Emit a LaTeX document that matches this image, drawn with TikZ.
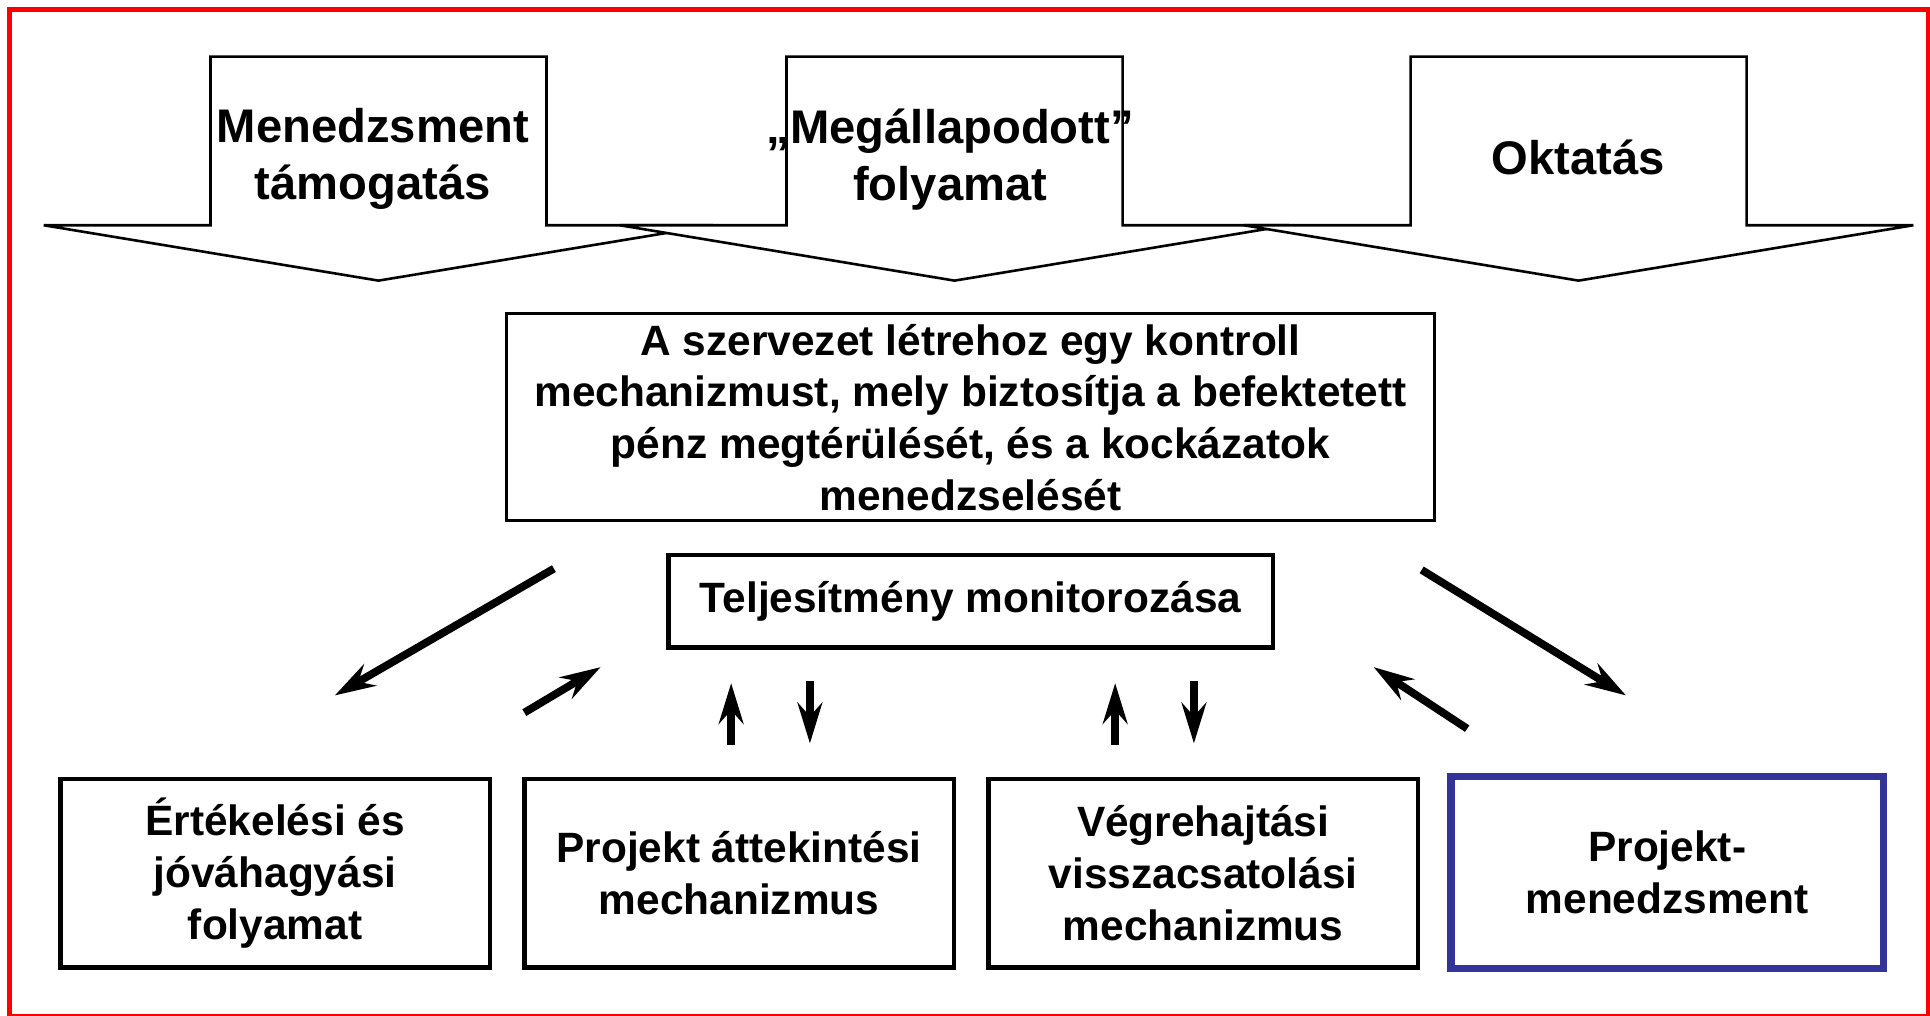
\documentclass[tikz,border=0pt]{standalone}
\usepackage{fontspec}
\setmainfont{Liberation Sans}
\usepackage{tikz}
\usetikzlibrary{arrows.meta}
\definecolor{pmblue}{RGB}{51,51,153}

\begin{document}
\begin{tikzpicture}[x=0.01cm, y=-0.01cm,
    bigarrow/.style={draw=black, fill=white, line width=0.6pt, line join=miter},
    arrowtext/.style={font=\fontsize{10.9}{13.2}\selectfont\bfseries, align=center},
    mechbox/.style={draw=black, line width=1.1pt, align=center, inner sep=0pt,
        font=\fontsize{9.8}{11.95}\selectfont\bfseries,
        minimum width=3.49cm, minimum height=1.53cm},
    flow/.style={-{Stealth[length=3.3mm, width=2mm, inset=1.1mm]}, line width=1.8pt}]
    \useasboundingbox (0,0) rectangle (1568,825);

    % Red frame
    \draw[red, line width=1.1pt] (8,8) rectangle (1567,826);

    % Block arrows on top
    \filldraw[bigarrow] (35.5,183) -- (171,183) -- (171,46) -- (444,46) -- (444,183) -- (579.5,183) -- (307.5,228) -- cycle;
    \filldraw[bigarrow] (503.5,183) -- (639,183) -- (639,46) -- (912,46) -- (912,183) -- (1047.5,183) -- (775.5,228) -- cycle;
    \filldraw[bigarrow] (1010.5,183) -- (1146,183) -- (1146,46) -- (1419,46) -- (1419,183) -- (1554.5,183) -- (1282.5,228) -- cycle;

    \node[arrowtext] (mgmt) at (303,129) {Menedzsment\\támogatás};
    \node[arrowtext] (agreed) at (772,130) {„Megállapodott”\\folyamat};
    \node[arrowtext] (edu) at (1282,128) {Oktatás};

    % Central boxes
    \node[mechbox, line width=0.7pt, minimum width=7.53cm, minimum height=1.68cm] (ctrl) at (788.5,339)
        {A szervezet létrehoz egy kontroll\\mechanizmust, mely biztosítja a befektetett\\pénz megtérülését, és a kockázatok\\menedzselését};
    \node[mechbox, minimum width=4.91cm, minimum height=0.75cm] (perf) at (788.5,488.5) {Teljesítmény monitorozása};

    % Bottom boxes
    \node[mechbox] (eval) at (223.5,709.5) {Értékelési és\\jóváhagyási\\folyamat};
    \node[mechbox] (review) at (600.5,709.5) {Projekt áttekintési\\mechanizmus};
    \node[mechbox] (exec) at (977.5,709.5) {Végrehajtási\\visszacsatolási\\mechanizmus};
    \node[mechbox, draw=pmblue, line width=1.7pt, minimum width=3.51cm, minimum height=1.56cm] (pm) at (1354.5,709) {Projekt-\\menedzsment};

    % Arrow ends
    \coordinate (ll-from) at (450,462);
    \coordinate (ll-to) at (272,565);
    \coordinate (lr-from) at (426,579);
    \coordinate (lr-to) at (488,542);
    \coordinate (u1-from) at (594,605);
    \coordinate (u1-to) at (594,555);
    \coordinate (d1-from) at (658,553);
    \coordinate (d1-to) at (658,604);
    \coordinate (u2-from) at (906,605);
    \coordinate (u2-to) at (906,555);
    \coordinate (d2-from) at (970,553);
    \coordinate (d2-to) at (970,604);
    \coordinate (rl-from) at (1192,592);
    \coordinate (rl-to) at (1116,542);
    \coordinate (rr-from) at (1155,463);
    \coordinate (rr-to) at (1321,565);

    % Arrows
    \draw[flow] (ll-from) -- (ll-to);
    \draw[flow] (lr-from) -- (lr-to);
    \draw[flow] (u1-from) -- (u1-to);
    \draw[flow] (d1-from) -- (d1-to);
    \draw[flow] (u2-from) -- (u2-to);
    \draw[flow] (d2-from) -- (d2-to);
    \draw[flow] (rl-from) -- (rl-to);
    \draw[flow] (rr-from) -- (rr-to);
\end{tikzpicture}
\end{document}
